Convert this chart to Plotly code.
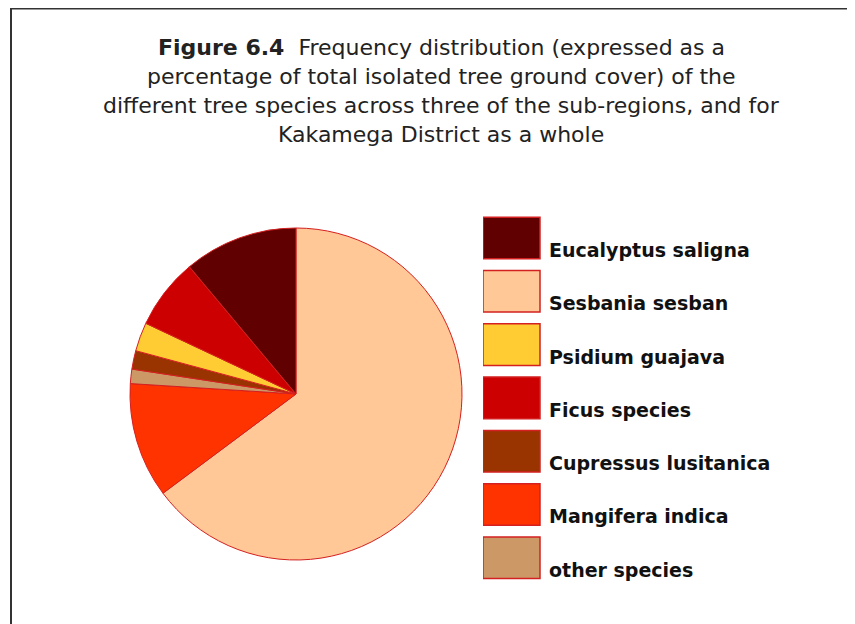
import plotly.graph_objects as go

# Pie data (in drawing order, clockwise from 12 o'clock)
pie_labels = ["Sesbania sesban", "Mangifera indica", "other species",
              "Cupressus lusitanica", "Psidium guajava", "Ficus species",
              "Eucalyptus saligna"]
pie_values = [64.8, 11.2, 1.4, 1.8, 2.8, 6.9, 11.1]

# Legend order as shown in the figure
legend_labels = ["Eucalyptus saligna", "Sesbania sesban", "Psidium guajava",
                 "Ficus species", "Cupressus lusitanica", "Mangifera indica",
                 "other species"]

color_map = {
    "Eucalyptus saligna": "#600000",
    "Sesbania sesban": "#ffc896",
    "Psidium guajava": "#ffcc33",
    "Ficus species": "#cc0000",
    "Cupressus lusitanica": "#993300",
    "Mangifera indica": "#ff3300",
    "other species": "#cc9966",
}

title_lines = ["<b>Figure 6.4</b>  Frequency distribution (expressed as a",
               "percentage of total isolated tree ground cover) of the",
               "different tree species across three of the sub-regions, and for",
               "Kakamega District as a whole"]

W, H = 847, 616   # page body margin of 8px is accounted for
fig = go.Figure()

cx, cy, r = 288, 386, 166
fig.add_trace(go.Pie(
    labels=pie_labels, values=pie_values, sort=False,
    direction="clockwise", rotation=0,
    marker=dict(colors=[color_map[l] for l in pie_labels],
                line=dict(color="#d42020", width=1)),
    textinfo="none", showlegend=False,
    domain=dict(x=[(cx - r) / W, (cx + r) / W], y=[1 - (cy + r) / H, 1 - (cy - r) / H]),
))

# Legend drawn as bars on a hidden axis
fig.add_trace(go.Bar(
    x=[1] * len(legend_labels), y=legend_labels, orientation="h",
    marker=dict(color=[color_map[l] for l in legend_labels],
                line=dict(color="#d42020", width=1.5)),
    width=0.78, xaxis="x", yaxis="y", showlegend=False, hoverinfo="skip",
))

box_left, box_w = 475, 57
top_c, step = 230, 53.3
y_top = top_c - step / 2
y_bot = y_top + step * len(legend_labels)
fig.update_layout(
    xaxis=dict(domain=[box_left / W, (box_left + box_w * 6) / W], range=[0, 6],
               visible=False, fixedrange=True),
    yaxis=dict(domain=[1 - y_bot / H, 1 - y_top / H], visible=False,
               categoryorder="array", categoryarray=legend_labels,
               range=[len(legend_labels) - 0.5, -0.5], fixedrange=True),
)

for lab in legend_labels:
    fig.add_annotation(x=(539 - box_left) / box_w, y=lab, xref="x", yref="y",
                       text="<b>" + lab + "</b>", showarrow=False,
                       xanchor="left", yanchor="middle", yshift=-12,
                       font=dict(family="DejaVu Sans", size=19, color="#111111"))

title_y = [39.5, 68.5, 97.5, 126.5]
for line, ty in zip(title_lines, title_y):
    fig.add_annotation(x=433 / W, y=1 - ty / H, xref="paper", yref="paper",
                       text=line, showarrow=False, align="center",
                       xanchor="center", yanchor="middle",
                       font=dict(family="DejaVu Sans", size=22, color="#222222"))

# Frame lines
fl = 3 / W
fig.add_shape(type="line", xref="paper", yref="paper", x0=fl, y0=0, x1=fl, y1=1,
              line=dict(color="#333333", width=2))
fig.add_shape(type="line", xref="paper", yref="paper", x0=fl, y0=1, x1=1, y1=1,
              line=dict(color="#333333", width=3))

fig.update_layout(width=W, height=H, margin=dict(l=0, r=0, t=0, b=0),
                  paper_bgcolor="white", plot_bgcolor="white")
fig.write_html("out.html")
